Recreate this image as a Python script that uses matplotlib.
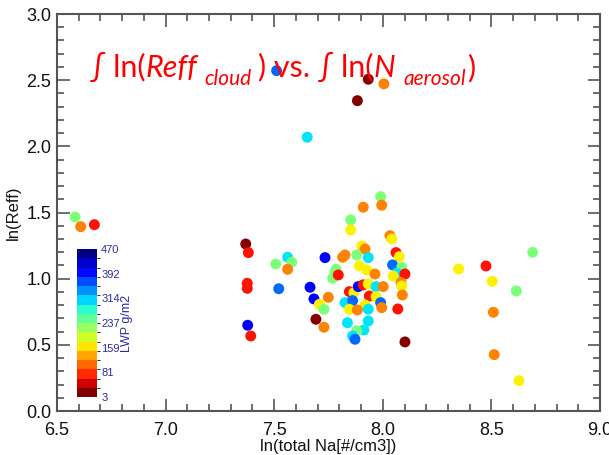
import matplotlib
matplotlib.use("Agg")
import matplotlib.pyplot as plt
import numpy as np
from matplotlib.colors import Normalize, BoundaryNorm
from matplotlib.ticker import MultipleLocator
import matplotlib as mpl

# ---- data ----
ln_na = [6.583, 6.609, 6.672,
         7.511, 7.933, 8.005, 7.883, 7.652,
         7.990, 7.995, 7.910, 7.852, 7.852, 8.033, 8.041, 7.903, 7.918, 7.826,
         7.815, 7.880, 7.933, 8.061, 8.076, 8.045, 8.087, 7.892, 7.785, 7.780,
         7.769, 7.795, 8.064, 8.048, 8.102, 7.926, 7.964, 8.084, 8.087, 8.090,
         7.846, 7.867, 7.887, 7.910, 7.933, 7.969, 8.002, 7.826, 7.861, 7.938,
         7.969, 7.990, 7.995, 7.918, 7.846, 7.883, 7.933, 8.069, 7.933, 7.837,
         7.913, 7.880, 7.861, 7.872, 8.102,
         7.369, 7.381, 7.376, 7.376, 7.378, 7.392, 7.507, 7.562, 7.581, 7.562,
         7.521, 7.734, 7.665, 7.683, 7.749, 7.708, 7.729, 7.692, 7.729,
         8.690, 8.475, 8.349, 8.504, 8.615, 8.509, 8.513, 8.627]
ln_reff = [1.466, 1.393, 1.408,
           2.572, 2.507, 2.472, 2.345, 2.069,
           1.620, 1.555, 1.540, 1.444, 1.368, 1.325, 1.300, 1.247, 1.224, 1.179,
           1.162, 1.179, 1.159, 1.197, 1.166, 1.104, 1.086, 1.096, 1.071, 1.041,
           1.003, 1.028, 1.041, 1.020, 1.035, 1.066, 1.035, 0.970, 0.945, 0.877,
           0.902, 0.894, 0.940, 0.953, 0.960, 0.940, 0.940, 0.819, 0.834, 0.869,
           0.864, 0.819, 0.781, 0.801, 0.769, 0.763, 0.769, 0.771, 0.680, 0.667,
           0.612, 0.606, 0.567, 0.542, 0.522,
           1.262, 1.197, 0.965, 0.927, 0.648, 0.567, 1.111, 1.162, 1.124, 1.071,
           0.924, 1.159, 0.935, 0.847, 0.859, 0.806, 0.769, 0.693, 0.633,
           1.199, 1.096, 1.073, 0.980, 0.907, 0.746, 0.426, 0.229]
lwp = [236, 110, 55,
       363, 5, 110, 5, 306,
       236, 110, 110, 236, 165, 110, 165, 165, 110, 110,
       110, 236, 306, 55, 165, 363, 236, 165, 236, 236,
       236, 55, 306, 165, 55, 165, 110, 110, 165, 110,
       55, 165, 418, 55, 165, 306, 110, 306, 363, 55,
       165, 363, 110, 165, 165, 110, 306, 55, 306, 306,
       306, 236, 306, 363, 5,
       5, 55, 55, 55, 418, 55, 236, 306, 236, 110,
       363, 418, 418, 418, 110, 165, 236, 5, 110,
       236, 55, 165, 165, 236, 110, 110, 165]
cbar_ticks = [3, 81, 159, 237, 314, 392, 470]
x_ticks = [6.5, 7.0, 7.5, 8.0, 8.5, 9.0]
y_ticks = [0.0, 0.5, 1.0, 1.5, 2.0, 2.5, 3.0]

plt.rcParams['font.family'] = ['Liberation Sans', 'DejaVu Sans']

W, H = 609, 455
fig = plt.figure(figsize=(W / 100, H / 100), dpi=100)
ax = fig.add_axes([57 / W, 1 - 411 / H, 543 / W, 397 / H])

cmap = plt.get_cmap('jet_r')
norm = Normalize(3, 470)
ax.scatter(ln_na, ln_reff, c=lwp, cmap=cmap, norm=norm, s=62, linewidths=0, zorder=3)

ax.set_xlim(6.5, 9.0)
ax.set_ylim(0.0, 3.0)
ax.set_xticks(x_ticks)
ax.set_yticks(y_ticks)
ax.set_xticklabels([f"{v:.1f}" for v in x_ticks])
ax.set_yticklabels([f"{v:.1f}" for v in y_ticks])
ax.xaxis.set_minor_locator(MultipleLocator(0.1))
ax.yaxis.set_minor_locator(MultipleLocator(0.1))
spc = '#555555'
for s in ax.spines.values():
    s.set_color(spc)
    s.set_linewidth(1.5)
ax.tick_params(which='both', direction='in', top=True, right=True, color=spc,
               width=1.2, labelsize=13, labelcolor='#111111')
ax.tick_params(which='major', length=9)
ax.tick_params(axis='x', which='major', pad=8)
ax.tick_params(axis='y', which='major', pad=4)
ax.tick_params(which='minor', length=5)
ax.set_xlabel('ln(total Na[#/cm3])', fontsize=12, labelpad=0, color='#111111')
ax.set_ylabel('ln(Reff)', fontsize=12, labelpad=4, color='#111111')

# colorbar
cax = fig.add_axes([77 / W, 1 - 397 / H, 20 / W, 148 / H])
cmap16 = plt.get_cmap('jet_r', 16)
bounds = np.linspace(3, 470, 17)
cb = mpl.colorbar.ColorbarBase(cax, cmap=cmap16, norm=BoundaryNorm(bounds, 16),
                               boundaries=bounds, ticks=cbar_ticks)
cb.outline.set_visible(False)
cax.tick_params(length=0, labelsize=8, labelcolor='#2b2ba0', pad=3)
cax.set_yticklabels([str(t) for t in cbar_ticks])
cb.set_label('LWP g/m2', color='#2b2ba0', fontsize=9, labelpad=1)

# title pieces: (text, style, size, baseline shift px, gap before px)
fam = ['Lato', 'DejaVu Sans']
fs = 22
fss = 15
red = '#ff0000'
renderer = fig.canvas.get_renderer()
pieces = [("\u222b ln(", 'normal', fs, 0, 0),
          ("Reff", 'italic', fs, 0, 0),
          ("cloud", 'italic', fss, -8, 7),
          (") vs. \u222b ln(", 'normal', fs, 0, 7),
          ("N", 'italic', fs, 0, 0),
          ("aerosol", 'italic', fss, -8, 8),
          (")", 'normal', fs, 0, 1)]
x0 = 90
base = H - 77
for txt, style, size, dy, gap in pieces:
    t = fig.text((x0 + gap) / W, (base + dy) / H, txt, fontsize=size, style=style,
                 family=fam, color=red, va='baseline', ha='left')
    bb = t.get_window_extent(renderer)
    x0 = bb.x1

fig.savefig('out.png', dpi=100)
